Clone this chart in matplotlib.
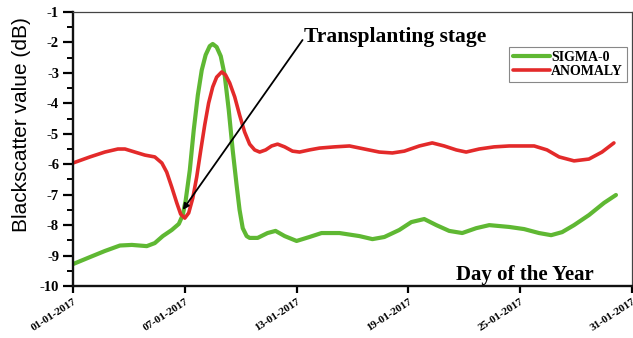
import matplotlib.pyplot as plt
from matplotlib.ticker import MultipleLocator

# Day of January 2017 and backscatter (dB) for each series
sigma_days = [1.0, 1.91, 2.71, 3.52, 4.16, 4.96, 5.39, 5.82, 6.30, 6.68, 6.89, 7.05,
              7.27, 7.48, 7.70, 7.91, 8.12, 8.34, 8.50, 8.71, 8.93, 9.14, 9.36, 9.57,
              9.78, 9.94, 10.11, 10.32, 10.48, 10.91, 11.44, 11.87, 12.36, 13.0, 13.69,
              14.34, 15.30, 16.37, 17.07, 17.71, 18.51, 19.16, 19.85, 20.50, 21.19,
              21.89, 22.64, 23.34, 24.41, 25.21, 26.01, 26.66, 27.25, 27.89, 28.69,
              29.50, 30.14]
sigma_vals = [-9.28, -9.05, -8.85, -8.67, -8.65, -8.69, -8.59, -8.36, -8.16, -7.96,
              -7.67, -7.18, -6.19, -4.88, -3.73, -2.91, -2.41, -2.12, -2.05, -2.15,
              -2.45, -3.07, -4.22, -5.53, -6.68, -7.50, -8.10, -8.36, -8.42, -8.42,
              -8.26, -8.19, -8.36, -8.52, -8.39, -8.26, -8.26, -8.36, -8.46, -8.39,
              -8.16, -7.90, -7.80, -8.00, -8.19, -8.26, -8.10, -8.00, -8.06, -8.13,
              -8.26, -8.33, -8.23, -8.00, -7.67, -7.27, -7.01]

anomaly_days = [1.0, 1.91, 2.71, 3.41, 3.79, 4.32, 4.86, 5.39, 5.77, 6.03, 6.30, 6.57,
                6.78, 7.0, 7.21, 7.43, 7.64, 7.86, 8.07, 8.28, 8.50, 8.71, 8.98, 9.19,
                9.41, 9.68, 9.94, 10.21, 10.48, 10.75, 11.02, 11.34, 11.66, 11.98,
                12.36, 12.78, 13.16, 13.69, 14.23, 15.03, 15.84, 16.64, 17.44, 18.14,
                18.78, 19.59, 20.28, 20.92, 21.57, 22.10, 22.80, 23.60, 24.41, 25.75,
                26.44, 27.09, 27.89, 28.69, 29.39, 30.03]
anomaly_vals = [-5.96, -5.76, -5.60, -5.50, -5.50, -5.60, -5.70, -5.76, -5.96, -6.26,
                -6.75, -7.27, -7.64, -7.77, -7.60, -7.11, -6.42, -5.53, -4.71, -3.99,
                -3.46, -3.14, -2.97, -3.07, -3.33, -3.79, -4.38, -4.94, -5.34, -5.53,
                -5.60, -5.53, -5.40, -5.34, -5.43, -5.57, -5.60, -5.53, -5.47, -5.43,
                -5.40, -5.50, -5.60, -5.63, -5.57, -5.40, -5.30, -5.40, -5.53, -5.60,
                -5.50, -5.43, -5.40, -5.40, -5.53, -5.76, -5.89, -5.83, -5.60, -5.30]

x_ticks = [1, 7, 13, 19, 25, 31]
x_tick_labels = ['01-01-2017', '07-01-2017', '13-01-2017',
                 '19-01-2017', '25-01-2017', '31-01-2017']
y_ticks = [-1, -2, -3, -4, -5, -6, -7, -8, -9, -10]
y_tick_labels = ['-1', '-2', '-3', '-4', '-5', '-6', '-7', '-8', '-9', '-10']

# transplanting point and where the note sits
transplant_day, transplant_val = 6.89, -7.50
note_day, note_val = 13.32, -1.92

serif = 'Liberation Serif'

fig = plt.figure(figsize=(6.33, 3.38), dpi=100)
ax = fig.add_axes([0.1153, 0.1538, 0.8831, 0.8107])

ax.plot(sigma_days, sigma_vals, color='#5fb833', lw=3.0, label='SIGMA-0',
        solid_capstyle='round')
ax.plot(anomaly_days, anomaly_vals, color='#e32a2a', lw=2.6, label='ANOMALY',
        solid_capstyle='round')

ax.set_xlim(1, 31)
ax.set_ylim(-10, -1)

ax.set_xticks(x_ticks)
ax.set_xticklabels(x_tick_labels, rotation=33, ha='right', rotation_mode='anchor',
                   fontfamily=serif, fontweight='bold', fontsize=8)
ax.set_yticks(y_ticks)
ax.set_yticklabels(y_tick_labels, fontfamily=serif, fontweight='bold', fontsize=10.5)
ax.yaxis.set_minor_locator(MultipleLocator(0.5))

ax.tick_params(axis='x', direction='out', length=5, width=1.6, pad=3)
ax.tick_params(axis='y', which='major', direction='out', length=7, width=1.6, pad=3)
ax.tick_params(axis='y', which='minor', direction='out', length=4, width=1.4)

for side in ['left', 'bottom']:
    ax.spines[side].set_linewidth(1.7)
    ax.spines[side].set_color('#111111')
for side in ['top', 'right']:
    ax.spines[side].set_linewidth(0.9)
    ax.spines[side].set_color('#444444')

fig.text(22 / 633, 0.63, 'Blackscatter value (dB)', rotation=90, ha='center',
         va='center', fontsize=15, fontfamily='Liberation Sans')

ax.text(0.8086, 0.022, 'Day of the Year', transform=ax.transAxes, ha='center',
        va='baseline', fontfamily=serif, fontweight='bold', fontsize=15)

# arrow pointing at the transplanting dip
ax.annotate('', xy=(transplant_day, transplant_val), xytext=(note_day, note_val),
            arrowprops=dict(arrowstyle='-|>', color='black', lw=1.3,
                            mutation_scale=9, shrinkA=0, shrinkB=0))
ax.text(note_day + 0.1, note_val - 0.06, 'Transplanting stage', ha='left',
        va='baseline', fontfamily=serif, fontweight='bold', fontsize=15.5)

leg = ax.legend(loc='upper right', bbox_to_anchor=(0.991, 0.872), borderaxespad=0,
                prop={'family': serif, 'weight': 'bold', 'size': 10},
                handlelength=2.6, handletextpad=0.1, labelspacing=0.05,
                borderpad=0.3, fancybox=False, framealpha=1)
leg.get_frame().set_edgecolor('#888888')
leg.get_frame().set_linewidth(0.8)

fig.savefig('out.png', dpi=100)
